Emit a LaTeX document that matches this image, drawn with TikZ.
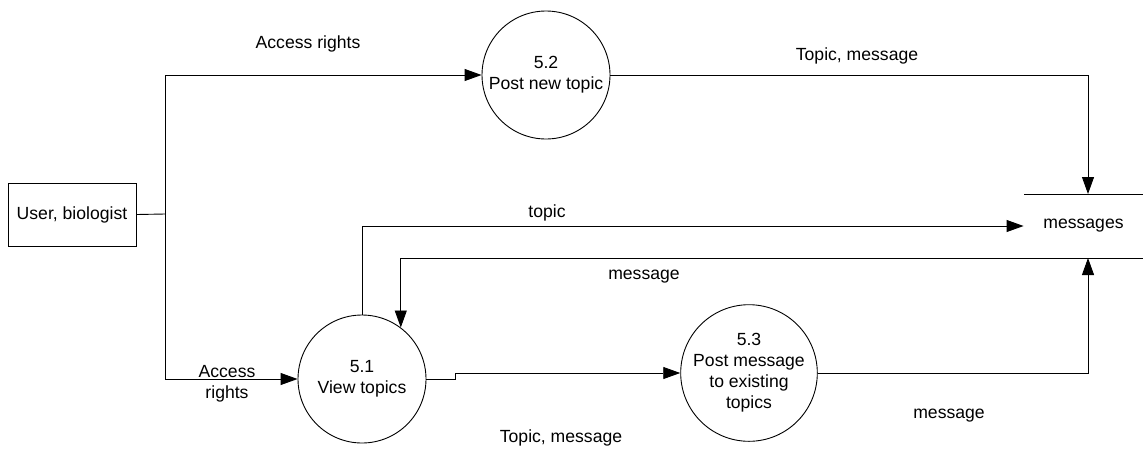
\documentclass[tikz,border=0pt]{standalone}
\usepackage{fontspec}
\setmainfont{Liberation Sans}
\usetikzlibrary{arrows.meta,calc}
\begin{document}
\begin{tikzpicture}[x=1pt,y=-1pt,line width=0.9pt,
  every node/.style={font=\fontsize{17.6}{21}\selectfont},
  proc/.style={draw,circle,minimum size=128pt,inner sep=0pt,align=center},
  lbl/.style={align=center,inner sep=0pt},
  flow/.style={-{Triangle[length=17pt,width=12pt]}}]
\useasboundingbox (0,0) rectangle (1143,448);
\node[draw,minimum width=128pt,minimum height=63pt,inner sep=0pt] (user) at (72,214.5) {User, biologist};
\node[proc] (c52) at (546,75) {5.2\\Post new topic};
\node[proc] (c51) at (362,379) {5.1\\View topics};
\node[proc] (c53) at (749,373) {5.3\\Post message\\to existing\\topics};
\node[minimum width=119pt,minimum height=64pt,inner sep=0pt] (store) at (1083.5,226) {messages};
\draw (1024,194) -- (1143,194);
\draw (1024,258) -- (1143,258);
\coordinate (st) at (1088,194);
\coordinate (sb) at (1088,258);
\coordinate (j) at (165,214);
\draw (user.east) -- (j);
\draw[flow] (j) |- (c52.west);
\draw[flow] (j) |- (c51.west);
\draw[flow] (c52.east) -| (st);
\draw[flow] (c51.north) |- (store.west);
\draw[flow] (sb) -| (c51.53.6);
\draw[flow] (c51.east) -- ++(29,0) |- (c53.west);
\draw[flow] (c53.east) -| (sb);
\node[lbl] (l1) at (308,44) {Access rights};
\node[lbl] (l2) at (857,56) {Topic, message};
\node[lbl] (l3) at (547,213) {topic};
\node[lbl] (l4) at (644,277) {message};
\node[lbl] (l5) at (227,384) {Access\\rights};
\node[lbl] (l6) at (561,438) {Topic, message};
\node[lbl] (l7) at (949,416) {message};
\end{tikzpicture}
\end{document}
